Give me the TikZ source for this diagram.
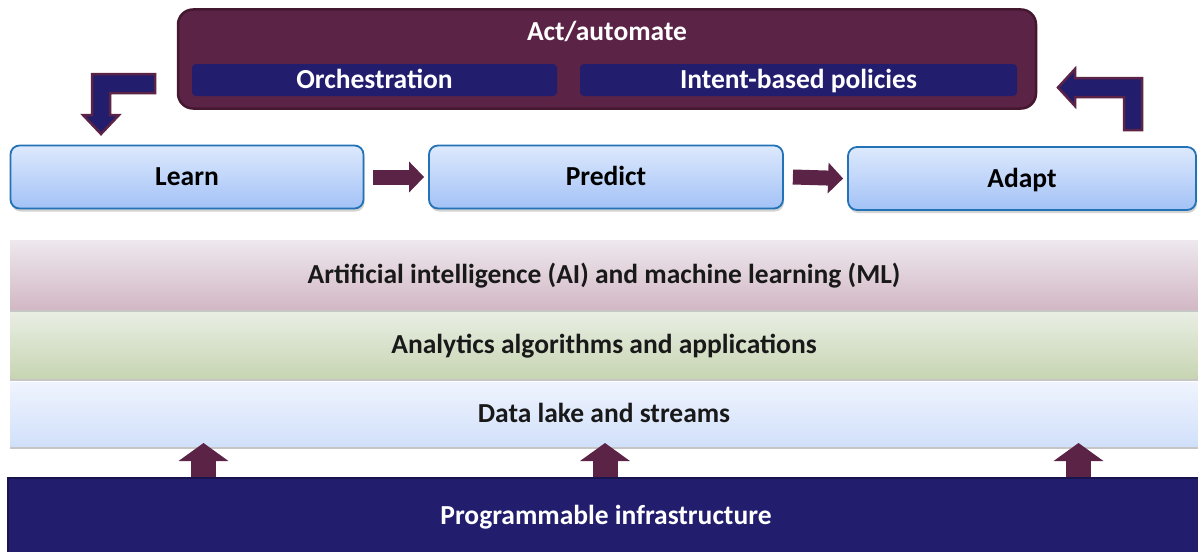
\documentclass[tikz,border=0pt]{standalone}
\usepackage{fontspec}
\setmainfont{Carlito}
\usetikzlibrary{shadows,arrows.meta}

\definecolor{plum}{HTML}{5B2346}
\definecolor{plumdark}{HTML}{44182F}
\definecolor{navy}{HTML}{231D6E}
\definecolor{navydark}{HTML}{18144E}
\definecolor{boxtop}{HTML}{DDE9FD}
\definecolor{boxbot}{HTML}{A3C2F6}
\definecolor{boxedge}{HTML}{2372B6}
\definecolor{aitop}{HTML}{EEE8EE}
\definecolor{aibot}{HTML}{D2B8C5}
\definecolor{antop}{HTML}{E8EEE3}
\definecolor{anbot}{HTML}{C8D5B3}
\definecolor{dltop}{HTML}{EFF4FE}
\definecolor{dlbot}{HTML}{D1E0FA}

\tikzset{
  txt/.style={font=\bfseries\fontsize{27.5}{32}\selectfont,
    text height=17.7pt, text depth=0pt},
  wtxt/.style={txt, text=white},
  stepbox/.style={draw=boxedge, line width=1.8pt, rounded corners=9pt,
    top color=boxtop, bottom color=boxbot, txt, text=black,
    drop shadow={opacity=0.35, shadow xshift=1pt, shadow yshift=-3pt}},
  band/.style={inner sep=0pt, txt, text=black!90,
    drop shadow={opacity=0.45, shadow xshift=0pt, shadow yshift=-2.5pt}},
  actbar/.style={fill=navy, rounded corners=4pt, wtxt, inner sep=0pt},
  fatarrow/.style={draw=plum, line width=15pt,
    -{Triangle[length=15pt,width=30pt]}},
  uparrow/.style={draw=plum, line width=25pt,
    -{Triangle[length=18pt,width=49pt]}},
  bentarrow/.style={fill=navy, draw=plum, line width=2.5pt, line join=miter},
}

\begin{document}
\begin{tikzpicture}[x=1pt, y=-1pt]
\useasboundingbox (0,0) rectangle (1198,551);

% top block: act/automate with its two parts
\node[draw=plumdark, fill=plum, line width=2.5pt, rounded corners=15pt,
      minimum width=858pt, minimum height=99pt, inner sep=0pt] (act) at (607,59) {};
\node[wtxt] (acttitle) at (607,32) {Act/automate};
\node[actbar, minimum width=365pt, minimum height=32pt] (orch) at (374.5,80) {Orchestration};
\node[actbar, minimum width=437pt, minimum height=32pt] (intent) at (798.5,80) {Intent-based policies};

% learn / predict / adapt cycle
\node[stepbox, minimum width=353pt, minimum height=63pt] (learn) at (187,177) {Learn};
\node[stepbox, minimum width=354pt, minimum height=63pt] (predict) at (606,177) {Predict};
\node[stepbox, minimum width=348pt, minimum height=63pt] (adapt) at (1022,178.5) {Adapt};

\draw[fatarrow] ([xshift=9pt]learn.east) -- ([xshift=-4pt]predict.west);
\draw[fatarrow] ([xshift=9pt]predict.east) -- ([xshift=-4pt]adapt.west);

% bent arrows between the act block and the cycle
\draw[bentarrow] (155,74) -- (92,74) -- (92,115) -- (83,115) -- (101,134)
  -- (119,115) -- (110,115) -- (110,93) -- (155,93) -- cycle;
\draw[bentarrow] (1124,130) -- (1124,97) -- (1075,97) -- (1075,106) -- (1058,87.5)
  -- (1075,69) -- (1075,78) -- (1142,78) -- (1142,130) -- cycle;

% stack of layers
\node[band, top color=aitop, bottom color=aibot, minimum width=1188pt, minimum height=69pt]
  (ai) at (604,274.5) {Artificial intelligence (AI) and machine learning (ML)};
\node[band, top color=antop, bottom color=anbot, minimum width=1188pt, minimum height=66pt]
  (an) at (604,345) {Analytics algorithms and applications};
\node[band, top color=dltop, bottom color=dlbot, minimum width=1188pt, minimum height=64pt]
  (lake) at (604,414) {Data lake and streams};

\node[draw=navydark, fill=navy, line width=2pt, minimum width=1192pt, minimum height=76pt,
      inner sep=0pt] (infra) at (604,516) {};
\node[wtxt] (infratext) at (606,516) {Programmable infrastructure};

% infrastructure feeds the data lake
\coordinate (u1) at (203.5,443);
\coordinate (u2) at (605,443);
\coordinate (u3) at (1078.5,443);
\foreach \u in {u1,u2,u3}
  \draw[uparrow] (infra.north -| \u) -- (\u);
\end{tikzpicture}
\end{document}
